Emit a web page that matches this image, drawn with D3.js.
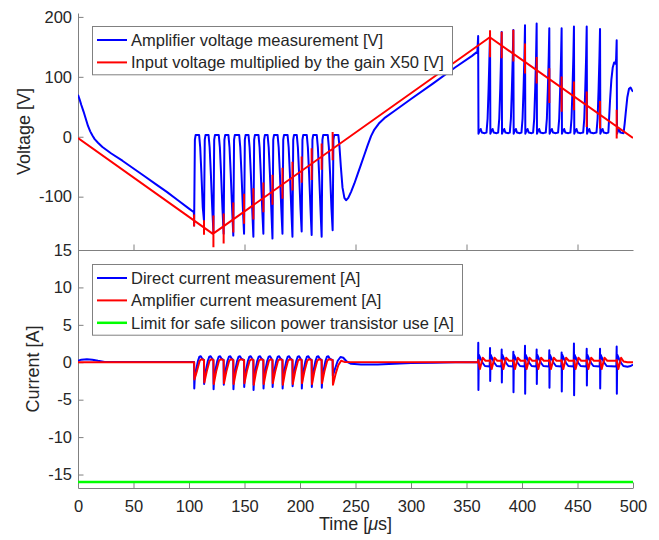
<!DOCTYPE html>
<html>
<head>
<meta charset="utf-8">
<script src="https://cdn.jsdelivr.net/npm/d3@7"></script>
<style>
  body { margin: 0; background: #fff; }
  svg { display: block; }
  text { font-family: "Liberation Sans", Arial, Helvetica, sans-serif; fill: #262626; }
</style>
</head>
<body>
<svg id="chart" width="659" height="540"></svg>
<script>
// ---- axis ticks ----
const timeTicks = [0, 50, 100, 150, 200, 250, 300, 350, 400, 450, 500];
const upperTimeTicks = [50, 150, 250, 350, 450];
const voltageTicks = [200, 100, 0, -100];
const currentTicks = [15, 10, 5, 0, -5, -10, -15];

// ---- amplifier output voltage [time µs, V] ----
const amplifierVoltage = [
  [0,70],[1.5,62],[3,53],[5,42],[7,30],[9,18],[11,9],[13,2],[15,-4],[18,-10],[22,-17],[30,-28],[40,-40],[50,-53],
  [60,-66],[70,-79],[80,-92],[90,-106],[100,-120],[104.4,-126],
  [104.6,-148],[105.3,-5],[106,3],[109.1,3],[110.1,-18],[111.2,-62],[112.4,-118],
  [113.5,-140],[114.2,-5],[114.9,3],[117.6,3],[118.6,-18],[119.7,-62],[120.9,-118],
  [122,-159],[122.7,-5],[123.4,3],[126.8,3],[127.8,-18],[128.9,-62],[130.1,-118],
  [131.2,-162],[131.9,-5],[132.6,3],[135.5,3],[136.5,-18],[137.6,-62],[138.8,-118],
  [139.9,-165],[140.6,-5],[141.3,3],[145.2,3],[146.2,-18],[147.3,-62],[148.5,-118],
  [149.6,-162],[150.3,-5],[151,3],[153.6,3],[154.6,-18],[155.7,-62],[156.9,-118],
  [158,-167],[158.7,-5],[159.4,3],[162.6,3],[163.6,-18],[164.7,-62],[165.9,-118],
  [167,-162],[167.7,-5],[168.4,3],[170.8,3],[171.8,-18],[172.9,-62],[174.1,-118],
  [175.2,-170],[175.9,-5],[176.6,3],[179.8,3],[180.8,-18],[181.9,-62],[183.1,-118],
  [184.2,-162],[184.9,-5],[185.6,3],[188.8,3],[189.8,-18],[190.9,-62],[192.1,-118],
  [193.2,-167],[193.9,-5],[194.6,3],[197.1,3],[198.1,-18],[199.2,-62],[200.4,-118],
  [201.5,-158],[202.2,-5],[202.9,3],[206.1,3],[207.1,-18],[208.2,-62],[209.4,-118],
  [210.5,-164],[211.2,-5],[211.9,3],[215.1,3],[216.1,-18],[217.2,-62],[218.4,-118],
  [219.5,-167],[220.2,-5],[220.9,3],[225,3],[226,-18],[227.1,-62],[228.3,-118],
  [229.4,-156],[230.1,-5],[230.8,3],[234.5,3],[235.5,-15],[236.8,-50],[238.3,-85],[240,-102],[241.5,-106],
  [243.5,-102],[246,-92],[249,-78],[252,-62],[255,-46],[258,-30],[261,-14],[264,1],[267,12],[271,22],
  [276,31],[285,43],[300,63],[320,89],[340,116],[355,135],[359.8,142],
  [360.5,168],[360.8,5],[361.8,10],[362.8,13],[363.8,7],[366.4,6],
  [368,7],[369,30],[369.9,80],[370.7,135],[371.2,172],[371.5,5],[372.5,10],[373.5,13],[374.5,7],[377.2,6],
  [378.5,7],[379.5,30],[380.4,80],[381.2,135],[381.7,175],[382,5],[383,10],[384,13],[385,7],[387.7,6],
  [389,7],[390,30],[390.9,80],[391.7,135],[392.2,178],[392.5,5],[393.5,10],[394.5,13],[395.5,7],[398.2,6],
  [399.5,7],[400.5,30],[401.4,80],[402.2,135],[402.7,186],[403,5],[404,10],[405,13],[406,7],[408.7,6],
  [410,7],[411,30],[411.9,80],[412.7,135],[413.2,189],[413.5,5],[414.5,10],[415.5,13],[416.5,7],[419.2,6],
  [421.4,7],[422.4,30],[423.3,80],[424.1,135],[424.6,181],[424.9,5],[425.9,10],[426.9,13],[427.9,7],[430.6,6],
  [432.5,7],[433.5,30],[434.4,80],[435.2,135],[435.7,181],[436,5],[437,10],[438,13],[439,7],[441.7,6],
  [443.6,7],[444.6,30],[445.5,80],[446.3,135],[446.8,184],[447.1,5],[448.1,10],[449.1,13],[450.1,7],[452.8,6],
  [455.1,7],[456.1,30],[457,80],[457.8,135],[458.3,184],[458.6,5],[459.6,10],[460.6,13],[461.6,7],[464.3,6],
  [467.1,7],[468.1,30],[469,80],[469.8,135],[470.3,180],[470.6,5],[471.6,10],[472.6,13],[473.6,7],[476.3,6],
  [477.8,7],[479.3,60],[480.5,95],[481.7,115],[483,124],[484.2,122],[484.8,130],[485.3,161],[485.6,5],
  [486.6,10],[487.6,12],[488.6,7],[491.5,6],[492.5,22],[493.4,39],[494.9,66],[496.4,80],[497.8,82],[499,78],[500,75]
];

// ---- input voltage x50: triangle corners [µs, V] and switching spikes [µs, top V, bottom V] ----
const inputVoltageCorners = [[0,-2],[121.5,-162],[371,166],[500,-2]];
const inputVoltageSpikes = [
  [104.6,-129.8,-149.8],[113.5,-139.5,-163.5],[122.0,-131.3,-184.3],[131.2,-128.2,-178.2],
  [139.9,-109.8,-159.8],[149.6,-95.1,-145.1],[158.0,-86,-138],[167.0,-76.2,-126.2],
  [175.2,-63.4,-113.4],[184.2,-51.6,-103.6],[193.2,-41.7,-89.7],[201.5,-32.8,-76.8],
  [210.5,-19,-72],[219.5,-11.2,-55.2],[229.4,7.8,-39.2],
  [371.2,177.7,132.7],[381.7,175.1,131.1],[392.2,178.4,125.4],[402.7,155.7,105.7],
  [413.2,133,89],[424.6,114.2,56.2],[435.7,100.7,41.7],[446.8,92.3,44.3],
  [458.3,75.3,16.3],[470.3,59.7,13.7],[485.3,45.1,-2.9]
];

// ---- direct current measurement [µs, A] ----
const directCurrent = [
  [0,0.2],[3,0.35],[8,0.4],[13,0.35],[18,0.2],[24,0.05],[60,0.02],
  [104.6,0.02],[104.75,-3.5],[105.2,-2.0],[106.6,-0.9],[108.1,0.2],[109.4,0.75],[110.6,0.8],[111.8,0.5],[113.4,0.3],
  [113.5,0.3],[113.65,-2.9],[114.1,-2.0],[115.5,-0.9],[117,0.2],[118.3,0.75],[119.5,0.8],[120.7,0.5],[121.9,0.3],
  [122,0.3],[122.15,-3.6],[122.6,-2.0],[124,-0.9],[125.5,0.2],[126.8,0.75],[128,0.8],[129.2,0.5],[131.1,0.3],
  [131.2,0.3],[131.35,-3.0],[131.8,-2.0],[133.2,-0.9],[134.7,0.2],[136,0.75],[137.2,0.8],[138.4,0.5],[139.8,0.3],
  [139.9,0.3],[140.05,-3.6],[140.5,-2.0],[141.9,-0.9],[143.4,0.2],[144.7,0.75],[145.9,0.8],[147.1,0.5],[149.5,0.3],
  [149.6,0.3],[149.75,-3.3],[150.2,-2.0],[151.6,-0.9],[153.1,0.2],[154.4,0.75],[155.6,0.8],[156.8,0.5],[157.9,0.3],
  [158,0.3],[158.15,-3.7],[158.6,-2.0],[160,-0.9],[161.5,0.2],[162.8,0.75],[164,0.8],[165.2,0.5],[166.9,0.3],
  [167,0.3],[167.15,-3.5],[167.6,-2.0],[169,-0.9],[170.5,0.2],[171.8,0.75],[173,0.8],[174.2,0.5],[175.1,0.3],
  [175.2,0.3],[175.35,-3.3],[175.8,-2.0],[177.2,-0.9],[178.7,0.2],[180,0.75],[181.2,0.8],[182.4,0.5],[184.1,0.3],
  [184.2,0.3],[184.35,-3.5],[184.8,-2.0],[186.2,-0.9],[187.7,0.2],[189,0.75],[190.2,0.8],[191.4,0.5],[193.1,0.3],
  [193.2,0.3],[193.35,-3.2],[193.8,-2.0],[195.2,-0.9],[196.7,0.2],[198,0.75],[199.2,0.8],[200.4,0.5],[201.4,0.3],
  [201.5,0.3],[201.65,-3.5],[202.1,-2.0],[203.5,-0.9],[205,0.2],[206.3,0.75],[207.5,0.8],[208.7,0.5],[210.4,0.3],
  [210.5,0.3],[210.65,-3.3],[211.1,-2.0],[212.5,-0.9],[214,0.2],[215.3,0.75],[216.5,0.8],[217.7,0.5],[219.4,0.3],
  [219.5,0.3],[219.65,-3.4],[220.1,-2.0],[221.5,-0.9],[223,0.2],[224.3,0.75],[225.5,0.8],[226.7,0.5],[229.3,0.3],
  [229.4,0.3],[229.6,-1.8],[231.5,-0.9],[234,0.2],[236.5,0.7],[239,0.6],[242,0.1],[246,-0.2],[255,-0.3],
  [270,-0.3],[285,-0.2],[300,-0.1],[320,-0.05],[340,0],[360.4,0],
  [360.6,2.6],[360.75,-3.7],[361.1,1.0],[362.6,0.5],[364.6,-0.1],[366.6,-0.5],[370.9,-0.55],
  [371.2,1.9],[371.35,-2.5],[371.7,1.0],[373.2,0.5],[375.2,-0.1],[377.2,-0.5],[381.4,-0.55],
  [381.7,1.7],[381.85,-2.7],[382.2,1.0],[383.7,0.5],[385.7,-0.1],[387.7,-0.5],[391.9,-0.55],
  [392.2,1.4],[392.35,-4.0],[392.7,1.0],[394.2,0.5],[396.2,-0.1],[398.2,-0.5],[402.4,-0.55],
  [402.7,2.2],[402.85,-4.2],[403.2,1.0],[404.7,0.5],[406.7,-0.1],[408.7,-0.5],[412.9,-0.55],
  [413.2,1.7],[413.35,-2.9],[413.7,1.0],[415.2,0.5],[417.2,-0.1],[419.2,-0.5],[424.3,-0.55],
  [424.6,1.6],[424.75,-3.4],[425.1,1.0],[426.6,0.5],[428.6,-0.1],[430.6,-0.5],[435.4,-0.55],
  [435.7,1.3],[435.85,-3.9],[436.2,1.0],[437.7,0.5],[439.7,-0.1],[441.7,-0.5],[446.5,-0.55],
  [446.8,2.5],[446.95,-4.4],[447.3,1.0],[448.8,0.5],[450.8,-0.1],[452.8,-0.5],[458,-0.55],
  [458.3,1.8],[458.45,-3.1],[458.8,1.0],[460.3,0.5],[462.3,-0.1],[464.3,-0.5],[470,-0.55],
  [470.3,1.8],[470.45,-3.5],[470.8,1.0],[472.3,0.5],[474.3,-0.1],[476.3,-0.5],[485,-0.55],
  [485.3,2.1],[485.45,-4.2],[485.8,1.0],[487.3,0.5],[489.3,-0.1],[491.3,-0.5],[495,-0.6],[498,-0.5],[500,-0.3]
];

// ---- amplifier current measurement [µs, A] ----
const amplifierCurrent = [
  [0,0],[104.6,0],[104.9,-2.3],[107.1,-1.2],[109.6,0.2],[111.1,0.4],[113.4,0.3],
  [113.5,0.3],[113.8,-2.7],[116,-1.2],[118.5,0.2],[120,0.4],[121.9,0.3],
  [122,0.3],[122.3,-2.9],[124.5,-1.2],[127,0.2],[128.5,0.4],[131.1,0.3],
  [131.2,0.3],[131.5,-2.8],[133.7,-1.2],[136.2,0.2],[137.7,0.4],[139.8,0.3],
  [139.9,0.3],[140.2,-2.9],[142.4,-1.2],[144.9,0.2],[146.4,0.4],[149.5,0.3],
  [149.6,0.3],[149.9,-2.8],[152.1,-1.2],[154.6,0.2],[156.1,0.4],[157.9,0.3],
  [158,0.3],[158.3,-3.0],[160.5,-1.2],[163,0.2],[164.5,0.4],[166.9,0.3],
  [167,0.3],[167.3,-2.9],[169.5,-1.2],[172,0.2],[173.5,0.4],[175.1,0.3],
  [175.2,0.3],[175.5,-2.8],[177.7,-1.2],[180.2,0.2],[181.7,0.4],[184.1,0.3],
  [184.2,0.3],[184.5,-3.0],[186.7,-1.2],[189.2,0.2],[190.7,0.4],[193.1,0.3],
  [193.2,0.3],[193.5,-2.9],[195.7,-1.2],[198.2,0.2],[199.7,0.4],[201.4,0.3],
  [201.5,0.3],[201.8,-2.8],[204,-1.2],[206.5,0.2],[208,0.4],[210.4,0.3],
  [210.5,0.3],[210.8,-2.9],[213,-1.2],[215.5,0.2],[217,0.4],[219.4,0.3],
  [219.5,0.3],[219.8,-2.8],[222,-1.2],[224.5,0.2],[226,0.4],[229.3,0.3],
  [229.4,0.3],[229.7,-3.0],[232,-1.6],[234.5,-0.4],[237,0.2],[240,0.05],[360.4,0],
  [360.6,0.3],[362.1,-0.9],[364.6,0.6],[367.1,0.2],[371.1,0.25],
  [371.2,0.3],[372.7,-0.9],[375.2,0.6],[377.7,0.2],[381.6,0.25],
  [381.7,0.3],[383.2,-0.9],[385.7,0.6],[388.2,0.2],[392.1,0.25],
  [392.2,0.3],[393.7,-0.9],[396.2,0.6],[398.7,0.2],[402.6,0.25],
  [402.7,0.3],[404.2,-0.9],[406.7,0.6],[409.2,0.2],[413.1,0.25],
  [413.2,0.3],[414.7,-0.9],[417.2,0.6],[419.7,0.2],[424.5,0.25],
  [424.6,0.3],[426.1,-0.9],[428.6,0.6],[431.1,0.2],[435.6,0.25],
  [435.7,0.3],[437.2,-0.9],[439.7,0.6],[442.2,0.2],[446.7,0.25],
  [446.8,0.3],[448.3,-0.9],[450.8,0.6],[453.3,0.2],[458.2,0.25],
  [458.3,0.3],[459.8,-0.9],[462.3,0.6],[464.8,0.2],[470.2,0.25],
  [470.3,0.3],[471.8,-0.9],[474.3,0.6],[476.8,0.2],[485.2,0.25],
  [485.3,0.3],[486.8,-0.9],[489.3,0.6],[491.5,0.1],[495,0],[500,0]
];

// ---- safe operating limit for a silicon power transistor [µs, A] ----
const safeLimit = [[0,-16],[500,-16]];

const voltageLegend = [
  { label: "Amplifier voltage measurement [V]", color: "#0000ff" },
  { label: "Input voltage multiplied by the gain X50 [V]", color: "#ff0000" }
];
const currentLegend = [
  { label: "Direct current measurement [A]", color: "#0000ff" },
  { label: "Amplifier current measurement [A]", color: "#ff0000" },
  { label: "Limit for safe silicon power transistor use [A]", color: "#00ff00" }
];

// ---- layout ----
const svg = d3.select("#chart");
const axisColor = "#808080";
const tickFont = 16.5;
const labelFont = 18;
const plainNumber = d => String(d);   // ASCII hyphen for negatives

const x = d3.scaleLinear().domain([0, 500]).range([78, 633]);
const yV = d3.scaleLinear().domain([-189, 206.5]).range([250, 13]);
const yI = d3.scaleLinear().domain([-16.8, 15]).range([488, 250]);

const defs = svg.append("defs");
defs.append("clipPath").attr("id", "clipUpper").append("rect")
  .attr("x", x(0)).attr("y", yV(206.5)).attr("width", x(500) - x(0)).attr("height", yV(-189) - yV(206.5));
defs.append("clipPath").attr("id", "clipLower").append("rect")
  .attr("x", x(0)).attr("y", yI(15)).attr("width", x(500) - x(0)).attr("height", yI(-16.8) - yI(15));

function styleAxis(g) {
  g.select(".domain").attr("stroke", axisColor).attr("stroke-width", 1);
  g.selectAll(".tick line").attr("stroke", axisColor).attr("stroke-width", 1);
  g.selectAll(".tick text")
    .attr("fill", "#262626")
    .attr("font-family", '"Liberation Sans", Arial, Helvetica, sans-serif')
    .attr("font-size", tickFont);
  g.attr("font-family", null).attr("font-size", null);
}

// ---- upper panel: voltages ----
const upperPanel = svg.append("g");
upperPanel.append("g")
  .attr("transform", `translate(${x(0)},0)`)
  .call(d3.axisLeft(yV).tickValues(voltageTicks).tickSize(-5.5).tickSizeOuter(0).tickPadding(6)
    .tickFormat(plainNumber))
  .call(styleAxis);
upperPanel.append("g")
  .attr("transform", `translate(0,${yV(-189)})`)
  .call(d3.axisBottom(x).tickValues(upperTimeTicks).tickSize(-5.5).tickSizeOuter(0).tickFormat(""))
  .call(styleAxis);

const lineV = d3.line().x(d => x(d[0])).y(d => yV(d[1]));
const upperPlot = upperPanel.append("g").attr("clip-path", "url(#clipUpper)");
upperPlot.append("path").datum(amplifierVoltage)
  .attr("d", lineV).attr("fill", "none").attr("stroke", "#0000ff")
  .attr("stroke-width", 2).attr("stroke-linejoin", "round");

// input voltage: triangle ramp plus a vertical spike at every switching instant
const spikePath = inputVoltageSpikes
  .map(s => `M${x(s[0])},${yV(s[1])}L${x(s[0])},${yV(s[2])}`).join("");
upperPlot.append("path")
  .attr("d", lineV(inputVoltageCorners) + spikePath)
  .attr("fill", "none").attr("stroke", "#ff0000")
  .attr("stroke-width", 2).attr("stroke-linejoin", "round");

upperPanel.append("text")
  .attr("transform", `translate(30,${(yV(206.5) + yV(-189)) / 2}) rotate(-90)`)
  .attr("text-anchor", "middle").attr("font-size", labelFont)
  .text("Voltage [V]");

// ---- lower panel: currents ----
const lowerPanel = svg.append("g");
lowerPanel.append("g")
  .attr("transform", `translate(${x(0)},0)`)
  .call(d3.axisLeft(yI).tickValues(currentTicks).tickSize(-5.5).tickSizeOuter(0).tickPadding(6)
    .tickFormat(plainNumber))
  .call(styleAxis);
lowerPanel.append("g")
  .attr("transform", `translate(0,${yI(-16.8)})`)
  .call(d3.axisBottom(x).tickValues(timeTicks).tickSize(-5.5).tickSizeOuter(0).tickPadding(12)
    .tickFormat(plainNumber))
  .call(styleAxis);

const lineI = d3.line().x(d => x(d[0])).y(d => yI(d[1]));
const lowerPlot = lowerPanel.append("g").attr("clip-path", "url(#clipLower)");
lowerPlot.append("path").datum(directCurrent)
  .attr("d", lineI).attr("fill", "none").attr("stroke", "#0000ff")
  .attr("stroke-width", 2).attr("stroke-linejoin", "round");
lowerPlot.append("path").datum(amplifierCurrent)
  .attr("d", lineI).attr("fill", "none").attr("stroke", "#ff0000")
  .attr("stroke-width", 2).attr("stroke-linejoin", "round");
lowerPlot.append("path").datum(safeLimit)
  .attr("d", lineI).attr("fill", "none").attr("stroke", "#00ff00")
  .attr("stroke-width", 2.5);

lowerPanel.append("text")
  .attr("transform", `translate(38.5,${(yI(15) + yI(-16.8)) / 2}) rotate(-90)`)
  .attr("text-anchor", "middle").attr("font-size", labelFont)
  .text("Current [A]");

const xLabel = svg.append("text")
  .attr("x", (x(0) + x(500)) / 2).attr("y", 530)
  .attr("text-anchor", "middle").attr("font-size", labelFont);
xLabel.append("tspan").text("Time [");
xLabel.append("tspan").attr("font-style", "italic").text("\u03bc");
xLabel.append("tspan").text("s]");

// ---- legends ----
function legend(items, left, topY, width) {
  const rowH = 22.4;
  const g = svg.append("g");
  g.append("rect")
    .attr("x", left + 0.5).attr("y", topY + 0.5)
    .attr("width", width).attr("height", items.length * rowH + 3.5)
    .attr("fill", "#fff").attr("stroke", axisColor).attr("stroke-width", 1);
  items.forEach((it, i) => {
    const cy = topY + 14 + i * rowH;
    g.append("line")
      .attr("x1", left + 5).attr("x2", left + 35).attr("y1", cy).attr("y2", cy)
      .attr("stroke", it.color).attr("stroke-width", it.color === "#00ff00" ? 2.5 : 2);
    g.append("text")
      .attr("x", left + 39).attr("y", cy + 6)
      .attr("font-size", tickFont).text(it.label);
  });
}
legend(voltageLegend, 92, 26, 360);
legend(currentLegend, 92, 264, 370);
</script>
</body>
</html>
